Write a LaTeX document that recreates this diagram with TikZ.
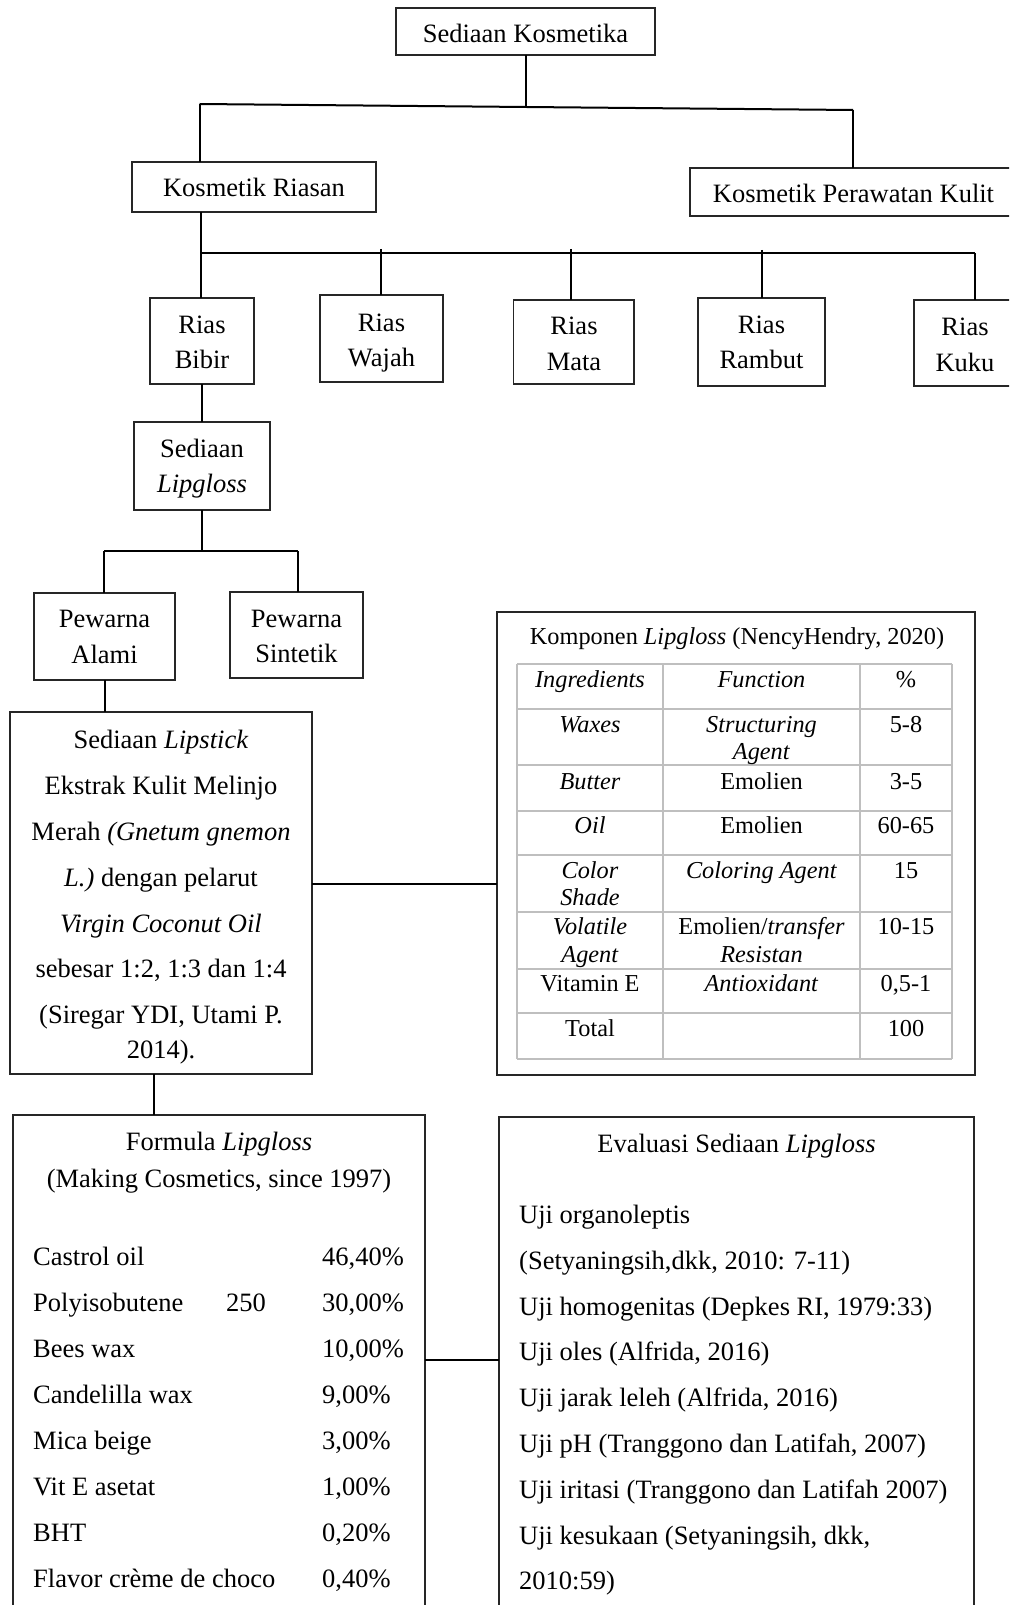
\documentclass[tikz,border=0pt]{standalone}
\usepackage{fontspec}
\setmainfont{Liberation Serif}
\usetikzlibrary{fit}
\begin{document}
\begin{tikzpicture}[x=1pt,y=-1pt,
  bx/.style={draw=black!85, line width=1.3pt, fill=white, inner sep=0pt, outer sep=0pt},
  conn/.style={draw=black, line width=2pt},
  t/.style={inner sep=0pt, anchor=base, font=\fontsize{26.5}{32}\selectfont},
  tl/.style={t, anchor=base west},
  tt/.style={inner sep=0pt, anchor=base, font=\fontsize{24.3}{27}\selectfont},
  gridline/.style={draw=black!25, line width=2pt}
]
\useasboundingbox (0,0) rectangle (1009,1605);
\clip (0,0) rectangle (1009,1605);
\fill[white] (0,0) rectangle (1009,1605);

% ---------- boxes ----------
\node[bx, fit={(396,8) (655,55)}] (sk) {};
\node[bx, fit={(132,162) (376,212)}] (kr) {};
\node[bx, fit={(690,168) (1017,216)}] (kp) {};
\node[bx, fit={(150,298) (254,384)}] (bibir) {};
\node[bx, fit={(320,295) (443,382)}] (wajah) {};
\node[bx, fit={(513.5,300) (634,384)}] (mata) {};
\node[bx, fit={(698,298) (825,386)}] (rambut) {};
\node[bx, fit={(914,300) (1016,386)}] (kuku) {};
\node[bx, fit={(134,422) (270,510)}] (lipgloss) {};
\node[bx, fit={(34,593) (175,680)}] (alami) {};
\node[bx, fit={(230,592) (363,678)}] (sintetik) {};
\node[bx, fit={(10,712) (312,1074)}] (lipstick) {};
\node[bx, fit={(497,612) (975,1075)}] (komponen) {};
\node[bx, fit={(13,1115) (425,1625)}] (formula) {};
\node[bx, fit={(499,1117) (974,1625)}] (evaluasi) {};

% ---------- connectors ----------
\coordinate (j1L) at (199.5,104);
\coordinate (j1R) at (853,110);
\coordinate (j1M) at (526,107);
\draw[conn] (sk.south) -- (sk.south |- j1M);
\draw[conn] (j1L) -- (j1R);
\draw[conn] (j1L) -- (j1L |- kr.north);
\draw[conn] (j1R) -- (j1R |- kp.north);

\coordinate (j2L) at (201,253);
\coordinate (j2R) at (975,253);
\coordinate (jw) at (381,249);
\coordinate (jm) at (571,249);
\coordinate (jr) at (762,250);
\draw[conn] (j2L) -- (j2R);
\draw[conn] (kr.south -| j2L) -- (j2L |- bibir.north);
\draw[conn] (jw) -- (jw |- wajah.north);
\draw[conn] (jm) -- (jm |- mata.north);
\draw[conn] (jr) -- (jr |- rambut.north);
\draw[conn] (j2R) -- (j2R |- kuku.north);

\draw[conn] (bibir.south) -- (lipgloss.north);
\coordinate (j3) at (201,551);
\coordinate (j3L) at (104,551);
\coordinate (j3R) at (298,551);
\draw[conn] (lipgloss.south) -- (lipgloss.south |- j3);
\draw[conn] (j3L) -- (j3R);
\draw[conn] (j3L) -- (j3L |- alami.north);
\draw[conn] (j3R) -- (j3R |- sintetik.north);
\draw[conn] (alami.south) -- (alami.south |- lipstick.north);

\coordinate (j4) at (312,884);
\draw[conn] (j4) -- (j4 -| komponen.west);
\coordinate (j5) at (154,1074);
\draw[conn] (j5) -- (j5 |- formula.north);
\coordinate (j6) at (425,1360);
\draw[conn] (j6) -- (j6 -| evaluasi.west);

% ---------- texts: top ----------
\node[t] (skT) at (525.5,43) {Sediaan Kosmetika};
\node[t] (krT) at (254,197) {Kosmetik Riasan};
\node[t] (kpT) at (853.5,203) {Kosmetik Perawatan Kulit};
\node[t] (bibirA) at (202,333) {Rias};
\node[t] (bibirB) at (202,368) {Bibir};
\node[t] (wajahA) at (381.5,331) {Rias};
\node[t] (wajahB) at (381.5,366) {Wajah};
\node[t] (mataA) at (574,334) {Rias};
\node[t] (mataB) at (574,370) {Mata};
\node[t] (rambutA) at (761.5,333) {Rias};
\node[t] (rambutB) at (761.5,368) {Rambut};
\node[t] (kukuA) at (965,335) {Rias};
\node[t] (kukuB) at (965,371) {Kuku};
\node[t] (lipA) at (202,457) {Sediaan};
\node[t] (lipB) at (202,492) {\textit{Lipgloss}};
\node[t] (alamiA) at (104.5,627) {Pewarna};
\node[t] (alamiB) at (104.5,663) {Alami};
\node[t] (sinA) at (296.5,627) {Pewarna};
\node[t] (sinB) at (296.5,662) {Sintetik};

% ---------- lipstick box ----------
\node[t] (ls1) at (161,748) {Sediaan \textit{Lipstick}};
\node[t] (ls2) at (161,794) {Ekstrak Kulit Melinjo};
\node[t] (ls3) at (161,840) {Merah \textit{(Gnetum gnemon}};
\node[t] (ls4) at (161,886) {\textit{L.)} dengan pelarut};
\node[t] (ls5) at (161,932) {\textit{Virgin Coconut Oil}};
\node[t] (ls6) at (161,977) {sebesar 1:2, 1:3 dan 1:4};
\node[t] (ls7) at (161,1023) {(Siregar YDI, Utami P.};
\node[t] (ls8) at (161,1058) {2014).};

% ---------- komponen table ----------
\node[tt] (ktitle) at (737,644) {Komponen \textit{Lipgloss} (NencyHendry, 2020)};
\foreach \yy in {664,709,765,811,855,912,969,1013,1059}
  \draw[gridline] (517,\yy) -- (952,\yy);
\foreach \xx in {517,663,860,952}
  \draw[gridline] (\xx,664) -- (\xx,1059);
\node[tt] (c11) at (590,687) {\textit{Ingredients}};
\node[tt] (c12) at (761.5,687) {\textit{Function}};
\node[tt] (c13) at (906,687) {\%};
\node[tt] (c21) at (590,732) {\textit{Waxes}};
\node[tt] (c22a) at (761.5,732) {\textit{Structuring}};
\node[tt] (c22b) at (761.5,759) {\textit{Agent}};
\node[tt] (c23) at (906,732) {5-8};
\node[tt] (c31) at (590,789) {\textit{Butter}};
\node[tt] (c32) at (761.5,789) {Emolien};
\node[tt] (c33) at (906,789) {3-5};
\node[tt] (c41) at (590,833) {\textit{Oil}};
\node[tt] (c42) at (761.5,833) {Emolien};
\node[tt] (c43) at (906,833) {60-65};
\node[tt] (c51a) at (590,878) {\textit{Color}};
\node[tt] (c51b) at (590,905) {\textit{Shade}};
\node[tt] (c52) at (761.5,878) {\textit{Coloring Agent}};
\node[tt] (c53) at (906,878) {15};
\node[tt] (c61a) at (590,934) {\textit{Volatile}};
\node[tt] (c61b) at (590,962) {\textit{Agent}};
\node[tt] (c62a) at (761.5,934) {Emolien/\textit{transfer}};
\node[tt] (c62b) at (761.5,962) {\textit{Resistan}};
\node[tt] (c63) at (906,934) {10-15};
\node[tt] (c71) at (590,991) {Vitamin E};
\node[tt] (c72) at (761.5,991) {\textit{Antioxidant}};
\node[tt] (c73) at (906,991) {0,5-1};
\node[tt] (c81) at (590,1036) {Total};
\node[tt] (c83) at (906,1036) {100};

% ---------- formula box ----------
\node[t] (fT1) at (219,1150) {Formula \textit{Lipgloss}};
\node[t] (fT2) at (219,1187) {(Making Cosmetics, since 1997)};
\node[tl] (f1) at (33,1265) {Castrol oil};
\node[tl] (f2) at (33,1311) {Polyisobutene};
\node[tl] (f2b) at (226,1311) {250};
\node[tl] (f3) at (33,1357) {Bees wax};
\node[tl] (f4) at (33,1403) {Candelilla wax};
\node[tl] (f5) at (33,1449) {Mica beige};
\node[tl] (f6) at (33,1495) {Vit E asetat};
\node[tl] (f7) at (33,1541) {BHT};
\node[tl] (f8) at (33,1587) {Flavor crème de choco};
\node[tl] (p1) at (322,1265) {46,40\%};
\node[tl] (p2) at (322,1311) {30,00\%};
\node[tl] (p3) at (322,1357) {10,00\%};
\node[tl] (p4) at (322,1403) {9,00\%};
\node[tl] (p5) at (322,1449) {3,00\%};
\node[tl] (p6) at (322,1495) {1,00\%};
\node[tl] (p7) at (322,1541) {0,20\%};
\node[tl] (p8) at (322,1587) {0,40\%};

% ---------- evaluasi box ----------
\node[t] (eT) at (736.5,1152) {Evaluasi Sediaan \textit{Lipgloss}};
\node[tl] (e1) at (519,1223) {Uji organoleptis};
\node[tl] (e2) at (519,1269) {(Setyaningsih,dkk, 2010: 7-11)};
\node[tl] (e3) at (519,1315) {Uji homogenitas (Depkes RI, 1979:33)};
\node[tl] (e4) at (519,1360) {Uji oles (Alfrida, 2016)};
\node[tl] (e5) at (519,1406) {Uji jarak leleh (Alfrida, 2016)};
\node[tl] (e6) at (519,1452) {Uji pH (Tranggono dan Latifah, 2007)};
\node[tl] (e7) at (519,1498) {Uji iritasi (Tranggono dan Latifah 2007)};
\node[tl] (e8) at (519,1544) {Uji kesukaan (Setyaningsih, dkk,};
\node[tl] (e9) at (519,1589) {2010:59)};
\end{tikzpicture}
\end{document}
